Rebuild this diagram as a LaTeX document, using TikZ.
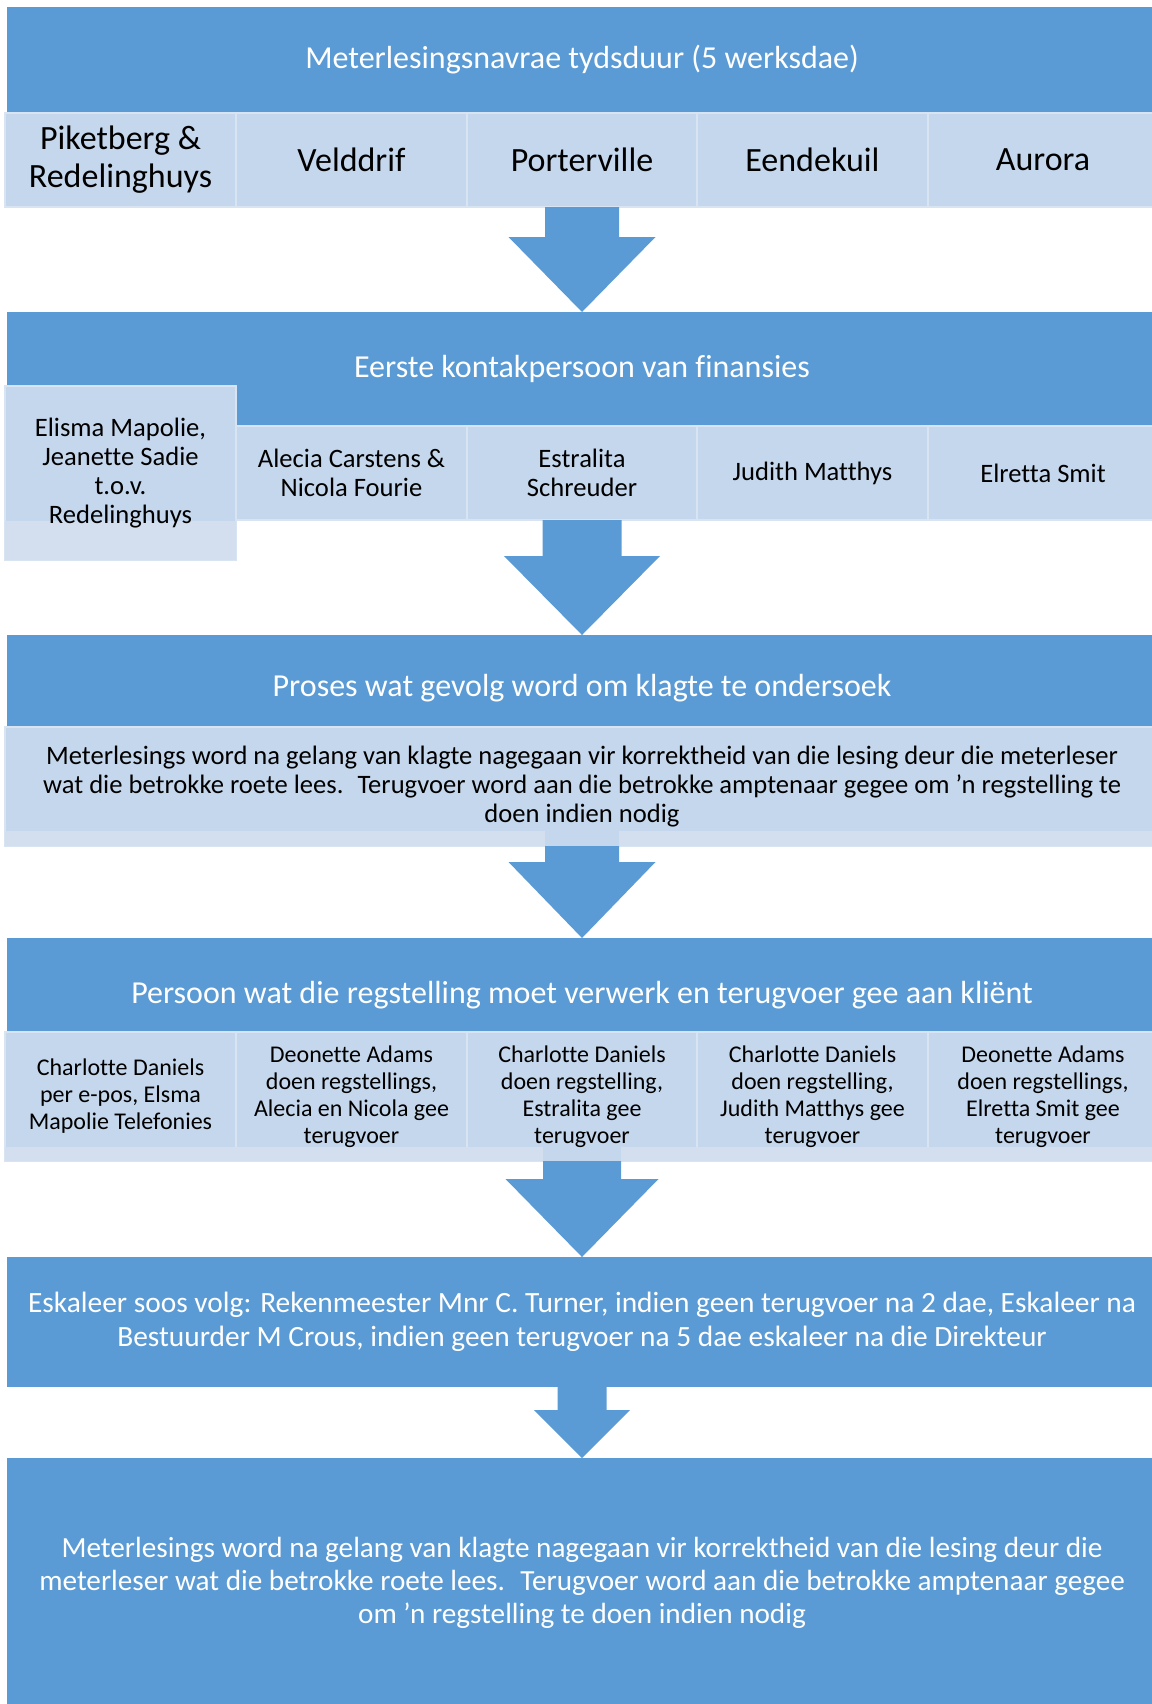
\documentclass[tikz,border=0pt]{standalone}
\usepackage{fontspec}
\setmainfont{Carlito}[Ligatures=NoCommon]
\usepackage{tikz}
\usetikzlibrary{calc}

\definecolor{hdrblue}{HTML}{5B9BD5}
\definecolor{cellblue}{HTML}{C5D7EC}
\definecolor{bandblue}{HTML}{D3DFEF}
\definecolor{lineblue}{HTML}{D9E4F2}

\tikzset{
  hdr/.style={fill=hdrblue, text=white, inner sep=0pt, outer sep=0pt, align=center, font=\fontsize{16}{19}\selectfont},
  cell/.style={fill=cellblue, draw=lineblue, line width=0.8pt, text=black, inner sep=0pt, outer sep=0pt, align=center},
  band/.style={fill=bandblue},
  arrowfill/.style={fill=hdrblue},
}

\newcommand{\blockarr}[5]{%
  \fill[arrowfill] ($(#1)+(-#3,0)$) -- ($(#1)+(#3,0)$) -- ($(#2)+(#3,-#5)$) -- ($(#2)+(#4,-#5)$)
    -- (#2) -- ($(#2)+(-#4,-#5)$) -- ($(#2)+(-#3,-#5)$) -- cycle;}

\begin{document}
\begin{tikzpicture}[x=0.5pt,y=-0.5pt]
		\useasboundingbox (0,0) rectangle (1152,1704);
		\node[hdr, minimum width=575pt, minimum height=53pt] (h1) at (582,60) {Meterlesingsnavrae tydsduur (5 werksdae)};
		\node[cell, minimum width=115.5pt, minimum height=47pt, font=\fontsize{17}{19}\selectfont] (c11) at (120.5,160) {Piketberg \&\\Redelinghuys};
		\node[cell, minimum width=115.5pt, minimum height=47pt, font=\fontsize{17}{19}\selectfont] (c12) at (351.5,160) {Velddrif};
		\node[cell, minimum width=115pt, minimum height=47pt, font=\fontsize{17}{19}\selectfont] (c13) at (582,160) {Porterville};
		\node[cell, minimum width=115.5pt, minimum height=47pt, font=\fontsize{17}{19}\selectfont] (c14) at (812.5,160) {Eendekuil};
		\node[cell, minimum width=115pt, minimum height=47pt, font=\fontsize{17}{19}\selectfont] (c15) at (1043,160) {Aurora};

		\node[hdr, minimum width=575pt, minimum height=57pt] (h2) at (582,369) {Eerste kontakpersoon van finansies};
		\node[cell, minimum width=115.5pt, minimum height=87pt, font=\fontsize{13.3}{14.5}\selectfont] (c21) at (120.5,473) {};
		\fill[band] ($(c21.south west)+(0,-39)$) rectangle (c21.south east);
		\node[font=\fontsize{13.3}{14.5}\selectfont, align=center] (t21) at (c21) {Elisma Mapolie,\\Jeanette Sadie\\t.o.v.\\Redelinghuys};
		\node[cell, minimum width=115.5pt, minimum height=47pt, font=\fontsize{13.3}{14.5}\selectfont] (c22) at (351.5,473) {Alecia Carstens \&\\Nicola Fourie};
		\node[cell, minimum width=115pt, minimum height=47pt, font=\fontsize{13.3}{14.5}\selectfont] (c23) at (582,473) {Estralita\\Schreuder};
		\node[cell, minimum width=115.5pt, minimum height=47pt, font=\fontsize{13.3}{14.5}\selectfont] (c24) at (812.5,473) {Judith Matthys};
		\node[cell, minimum width=115pt, minimum height=47pt, font=\fontsize{13.3}{14.5}\selectfont] (c25) at (1043,473) {Elretta Smit};

		\node[hdr, minimum width=575pt, minimum height=46pt, text height=18pt] (h3) at (582,681) {Proses wat gevolg word om klagte te ondersoek};
		\node[cell, minimum width=577pt, minimum height=59.5pt] (r3) at (582,786.5) {};
		\fill[band] ($(r3.south west)+(0,-15)$) rectangle (r3.south east);
		\fill[cellblue] ($(r3.south)+(-37,-15)$) rectangle ($(r3.south)+(37,0)$);
		\node[font=\fontsize{13.3}{14.5}\selectfont, align=center] (t3) at (r3) {Meterlesings word na gelang van klagte nagegaan vir korrektheid van die lesing deur die meterleser\\wat die betrokke roete lees.~ Terugvoer word aan die betrokke amptenaar gegee om 'n regstelling te\\doen indien nodig};

		\node[hdr, minimum width=575pt, minimum height=47pt, text height=21.5pt] (h4) at (582,985) {Persoon wat die regstelling moet verwerk en terugvoer gee aan kli\"ent};
		\node[cell, minimum width=115.5pt, minimum height=64.5pt] (c41) at (120.5,1096.5) {};
		\node[cell, minimum width=115.5pt, minimum height=64.5pt] (c42) at (351.5,1096.5) {};
		\node[cell, minimum width=115pt, minimum height=64.5pt] (c43) at (582,1096.5) {};
		\node[cell, minimum width=115.5pt, minimum height=64.5pt] (c44) at (812.5,1096.5) {};
		\node[cell, minimum width=115pt, minimum height=64.5pt] (c45) at (1043,1096.5) {};
		\fill[band] ($(c41.south west)+(0,-14)$) rectangle (c45.south east);
		\fill[cellblue] ($(c43.south)+(-39,-14)$) rectangle ($(c43.south)+(39,0)$);
		\node[font=\fontsize{12}{13.5}\selectfont, align=center] (t41) at (c41) {Charlotte Daniels\\per e-pos, Elsma\\Mapolie Telefonies};
		\node[font=\fontsize{12}{13.5}\selectfont, align=center] (t42) at (c42) {Deonette Adams\\doen regstellings,\\Alecia en Nicola gee\\terugvoer};
		\node[font=\fontsize{12}{13.5}\selectfont, align=center] (t43) at (c43) {Charlotte Daniels\\doen regstelling,\\Estralita gee\\terugvoer};
		\node[font=\fontsize{12}{13.5}\selectfont, align=center] (t44) at (c44) {Charlotte Daniels\\doen regstelling,\\Judith Matthys gee\\terugvoer};
		\node[font=\fontsize{12}{13.5}\selectfont, align=center] (t45) at (c45) {Deonette Adams\\doen regstellings,\\Elretta Smit gee\\terugvoer};

		\node[hdr, minimum width=575pt, minimum height=65pt, font=\fontsize{14.7}{17}\selectfont] (h5) at (582,1322) {Eskaleer soos volg: Rekenmeester Mnr C. Turner, indien geen terugvoer na 2 dae, Eskaleer na\\Bestuurder M Crous, indien geen terugvoer na 5 dae eskaleer na die Direkteur};
		\node[hdr, minimum width=575pt, minimum height=125pt, font=\fontsize{14.6}{16.5}\selectfont] (h6) at (582,1583) {Meterlesings word na gelang van klagte nagegaan vir korrektheid van die lesing deur die\\meterleser wat die betrokke roete lees.~ Terugvoer word aan die betrokke amptenaar gegee\\om 'n regstelling te doen indien nodig};

		\blockarr{c13.south}{h2.north}{37}{73.5}{75}
		\blockarr{c23.south}{h3.north}{39.5}{78}{79}
		\blockarr{r3.south}{h4.north}{37}{73.5}{76}
		\blockarr{c43.south}{h5.north}{39}{76.5}{78}
		\blockarr{h5.south}{h6.north}{24.5}{48}{48}
\end{tikzpicture}
\end{document}
